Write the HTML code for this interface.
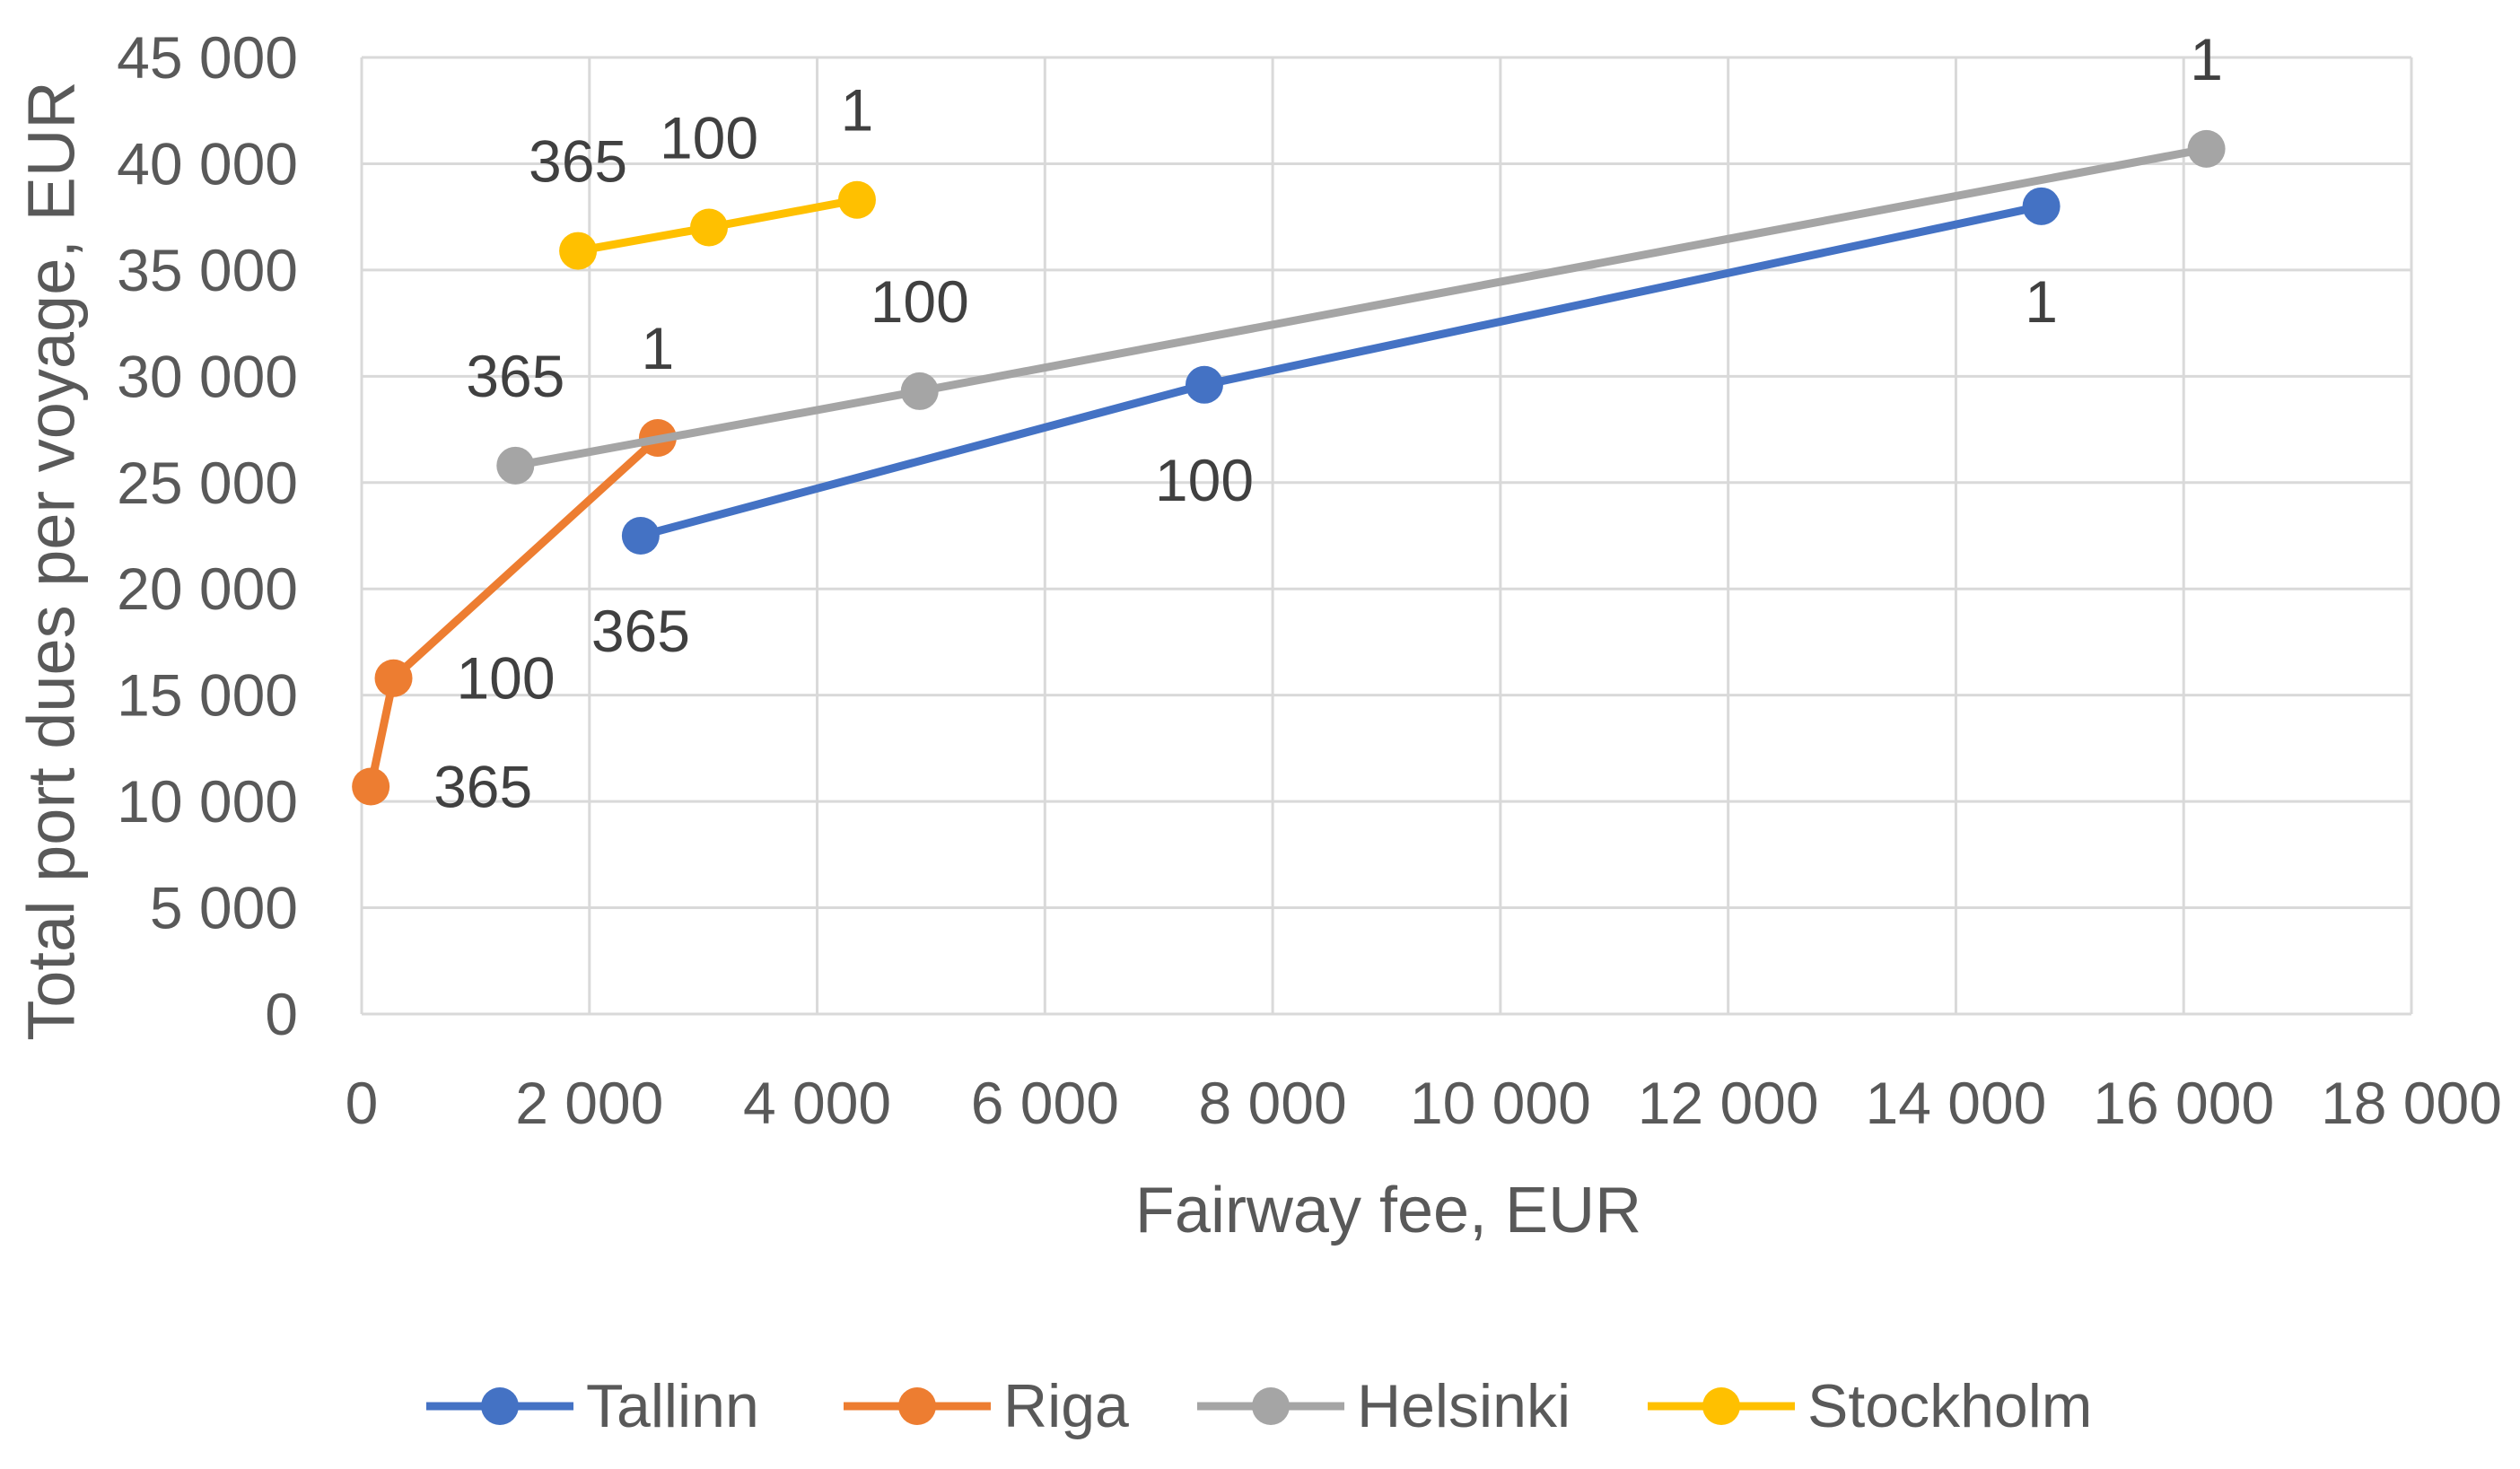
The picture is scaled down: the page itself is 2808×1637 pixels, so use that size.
<!DOCTYPE html>
<html><head><meta charset="utf-8">
<style>
html,body{margin:0;padding:0;background:#fff;}
svg{display:block;font-family:"Liberation Sans",sans-serif;}
</style></head>
<body>
<svg id="chart" width="2808" height="1637" viewBox="0 0 2808 1637" xmlns="http://www.w3.org/2000/svg">
<g id="grid"></g>
<g id="axes"></g>
<g id="series"></g>
<g id="labels"></g>
<text x="57" y="625" transform="rotate(-90 57 625)" text-anchor="middle" dominant-baseline="central" font-size="74" fill="#595959">Total port dues per voyage, EUR</text>
<text x="1547" y="1349" text-anchor="middle" dominant-baseline="central" font-size="72" fill="#595959">Fairway fee, EUR</text>
<g id="legend"></g>
</svg>
<script>
const seriesNames = ["Tallinn", "Riga", "Helsinki", "Stockholm"];
const seriesColors = ["#4472C4", "#ED7D31", "#A5A5A5", "#FFC000"];
const pointLabels = ["365", "100", "1"];
const tallinnX = [2450, 7400, 14750];
const tallinnY = [22500, 29600, 38000];
const rigaX = [80, 280, 2600];
const rigaY = [10700, 15800, 27100];
const helsinkiX = [1350, 4900, 16200];
const helsinkiY = [25800, 29300, 40700];
const stockholmX = [1900, 3050, 4350];
const stockholmY = [35900, 37000, 38300];
const labelPlacement = [
  ["below", "below", "below"],
  ["right", "right", "above"],
  ["above", "above", "above"],
  ["above", "above", "above"]
];
const xTicks = [0, 2000, 4000, 6000, 8000, 10000, 12000, 14000, 16000, 18000];
const yTicks = [0, 5000, 10000, 15000, 20000, 25000, 30000, 35000, 40000, 45000];

const NS = "http://www.w3.org/2000/svg";
const L = 403, R = 2687, T = 64, B = 1130;
const xMax = 18000, yMax = 45000;
function sx(v){ return L + v / xMax * (R - L); }
function sy(v){ return B - v / yMax * (B - T); }
function fmt(v){ return String(v).replace(/\B(?=(\d{3})+(?!\d))/g, " "); }
function mk(tag, attrs, parent){
  const e = document.createElementNS(NS, tag);
  for (const k in attrs) e.setAttribute(k, attrs[k]);
  parent.appendChild(e);
  return e;
}
const grid = document.getElementById("grid");
const axes = document.getElementById("axes");
xTicks.forEach(t => {
  const ln = mk("line", {x1: sx(t), x2: sx(t), y1: T, y2: B, stroke: "#D9D9D9", "stroke-width": 3}, grid);
  
  
  const tx = mk("text", {x: sx(t), y: 1229, "text-anchor": "middle", "dominant-baseline": "central", "font-size": 66, fill: "#595959"}, axes);
  tx.textContent = fmt(t);
  
  
});
yTicks.forEach(t => {
  const ln = mk("line", {x1: L, x2: R, y1: sy(t), y2: sy(t), stroke: "#D9D9D9", "stroke-width": 3}, grid);
  
  
  const tx = mk("text", {x: 332, y: sy(t), "text-anchor": "end", "dominant-baseline": "central", "font-size": 66, fill: "#595959"}, axes);
  tx.textContent = fmt(t);
  
  
});
const xs = [tallinnX, rigaX, helsinkiX, stockholmX];
const ys = [tallinnY, rigaY, helsinkiY, stockholmY];
const sg = document.getElementById("series");
const lg = document.getElementById("labels");
xs.forEach((xa, i) => {
  const col = seriesColors[i];
  const pts = xa.map((x, j) => sx(x) + "," + sy(ys[i][j])).join(" ");
  const pl = mk("polyline", {points: pts, fill: "none", stroke: col, "stroke-width": 9, "stroke-linejoin": "round"}, sg);
  
  
  xa.forEach((x, j) => {
    const cx = sx(x), cy = sy(ys[i][j]);
    const c = mk("circle", {cx: cx, cy: cy, r: 21, fill: col}, sg);
    
    
    const p = labelPlacement[i][j];
    let lx = cx, ly = cy;
    if (p === "below") ly = cy + 106;
    else if (p === "above") ly = cy - 100;
    else if (p === "right") lx = cx + 125;
    const t = mk("text", {x: lx, y: ly, "text-anchor": "middle", "dominant-baseline": "central", "font-size": 66, fill: "#404040"}, lg);
    t.textContent = pointLabels[j];
    
    
  });
});
const leg = document.getElementById("legend");
const legX = [475, 940, 1334, 1836];
seriesNames.forEach((n, i) => {
  const g = mk("g", {}, leg);
  
  
  const x0 = legX[i];
  mk("line", {x1: x0, x2: x0 + 164, y1: 1567, y2: 1567, stroke: seriesColors[i], "stroke-width": 9}, g);
  mk("circle", {cx: x0 + 82, cy: 1567, r: 21, fill: seriesColors[i]}, g);
  const t = mk("text", {x: x0 + 178, y: 1567, "dominant-baseline": "central", "font-size": 68, fill: "#595959"}, g);
  t.textContent = n;
});
</script>
</body></html>
